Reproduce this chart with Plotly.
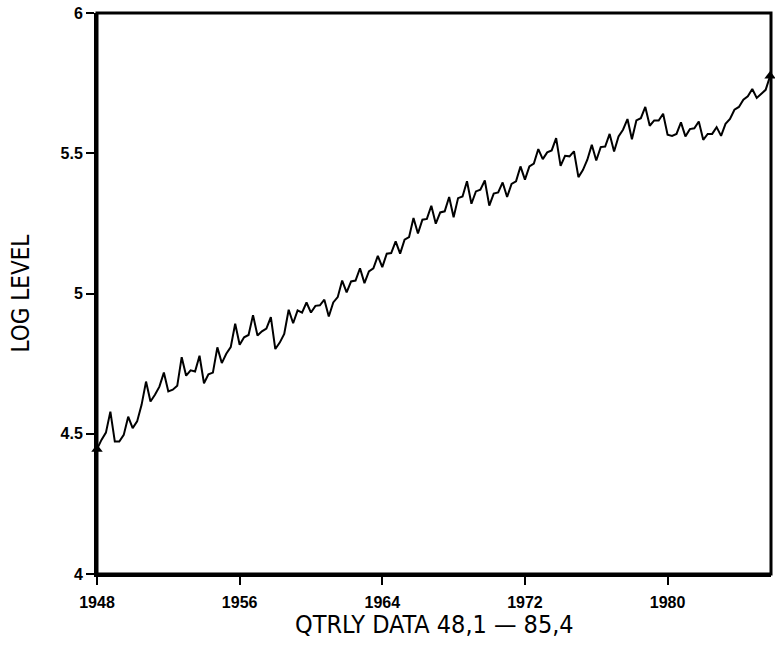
import plotly.graph_objects as go

start_year = 1948
quarters_per_year = 4

log_level = [
    4.445, 4.478, 4.504, 4.579, 4.472, 4.472, 4.496, 4.561, 4.520, 4.544,
    4.603, 4.686, 4.615, 4.639, 4.668, 4.718, 4.651, 4.657, 4.671, 4.773,
    4.707, 4.726, 4.722, 4.778, 4.680, 4.712, 4.718, 4.808, 4.752, 4.785,
    4.809, 4.892, 4.817, 4.844, 4.852, 4.923, 4.850, 4.865, 4.875, 4.916,
    4.802, 4.825, 4.856, 4.942, 4.894, 4.940, 4.932, 4.968, 4.932, 4.956,
    4.958, 4.978, 4.918, 4.968, 4.987, 5.046, 5.004, 5.043, 5.046, 5.090,
    5.037, 5.079, 5.090, 5.134, 5.094, 5.142, 5.144, 5.186, 5.142, 5.192,
    5.201, 5.269, 5.214, 5.263, 5.266, 5.313, 5.249, 5.289, 5.293, 5.344,
    5.272, 5.340, 5.346, 5.400, 5.320, 5.364, 5.370, 5.403, 5.313, 5.356,
    5.360, 5.396, 5.344, 5.391, 5.400, 5.453, 5.406, 5.453, 5.463, 5.515,
    5.479, 5.503, 5.510, 5.554, 5.455, 5.491, 5.489, 5.507, 5.415, 5.440,
    5.477, 5.530, 5.474, 5.522, 5.524, 5.569, 5.506, 5.560, 5.584, 5.622,
    5.550, 5.617, 5.625, 5.665, 5.598, 5.617, 5.617, 5.641, 5.566, 5.562,
    5.569, 5.610, 5.560, 5.586, 5.589, 5.613, 5.548, 5.569, 5.569, 5.593,
    5.562, 5.605, 5.622, 5.655, 5.665, 5.691, 5.703, 5.729, 5.697, 5.712,
    5.726, 5.775,
]

x_ticks = [1948, 1956, 1964, 1972, 1980]
x_tick_labels = ["1948", "1956", "1964", "1972", "1980"]
y_ticks = [4, 4.5, 5, 5.5, 6]
y_tick_labels = ["4", "4.5", "5", "5.5", "6"]
x_title = "QTRLY DATA 48,1 \u2014 85,4"
y_title = "LOG LEVEL"

time = [start_year + i / quarters_per_year for i in range(len(log_level))]

fig = go.Figure()
fig.add_trace(go.Scatter(
    x=time, y=log_level, mode="lines",
    line=dict(color="black", width=2),
    showlegend=False, hoverinfo="skip", cliponaxis=False,
))
fig.add_trace(go.Scatter(
    x=[time[0], time[-1]], y=[log_level[0], log_level[-1]],
    mode="markers",
    marker=dict(symbol="triangle-up", size=10, color="black"),
    showlegend=False, cliponaxis=False,
))

tickfont = dict(family="Liberation Sans Narrow, Liberation Sans", size=16, color="black", weight="bold")
titlefont = dict(family="DejaVu Sans Condensed, DejaVu Sans", size=24, color="black")

fig.update_layout(
    width=775, height=647,
    margin=dict(l=97, r=4, t=13, b=73),
    paper_bgcolor="white", plot_bgcolor="white",
    xaxis=dict(
        range=[time[0], time[-1] + 0.05],
        tickmode="array", tickvals=x_ticks, ticktext=x_tick_labels,
        ticks="outside", ticklen=8, tickwidth=1.5, tickcolor="black",
        ticklabelstandoff=4, ticklabeloverflow="allow",
        showline=True, linecolor="black", linewidth=3,
        showgrid=False, zeroline=False, automargin=False,
        tickfont=tickfont,
    ),
    yaxis=dict(
        range=[4, 6],
        tickmode="array", tickvals=y_ticks, ticktext=y_tick_labels,
        ticks="outside", ticklen=8, tickwidth=1.5, tickcolor="black",
        ticklabeloverflow="allow",
        showline=True, linecolor="black", linewidth=3,
        showgrid=False, zeroline=False, automargin=False,
        tickfont=tickfont,
    ),
    shapes=[
        dict(type="rect", xref="paper", yref="paper", x0=0, x1=1, y0=0, y1=1,
             line=dict(color="black", width=3), fillcolor="rgba(0,0,0,0)",
             layer="above"),
    ],
    annotations=[
        dict(text=y_title, xref="paper", yref="paper", x=0, y=0.5,
             xshift=-77, xanchor="center", yanchor="middle",
             textangle=-90, showarrow=False, font=titlefont),
        dict(text=x_title, xref="paper", yref="paper", x=0.5, y=0,
             yshift=-50, xanchor="center", yanchor="middle",
             showarrow=False, font=dict(titlefont, size=25)),
    ],
)

fig.write_html(
    "out.html",
    config={"displayModeBar": False},
    post_script="document.body.style.margin='0';document.body.style.overflow='hidden';",
)
